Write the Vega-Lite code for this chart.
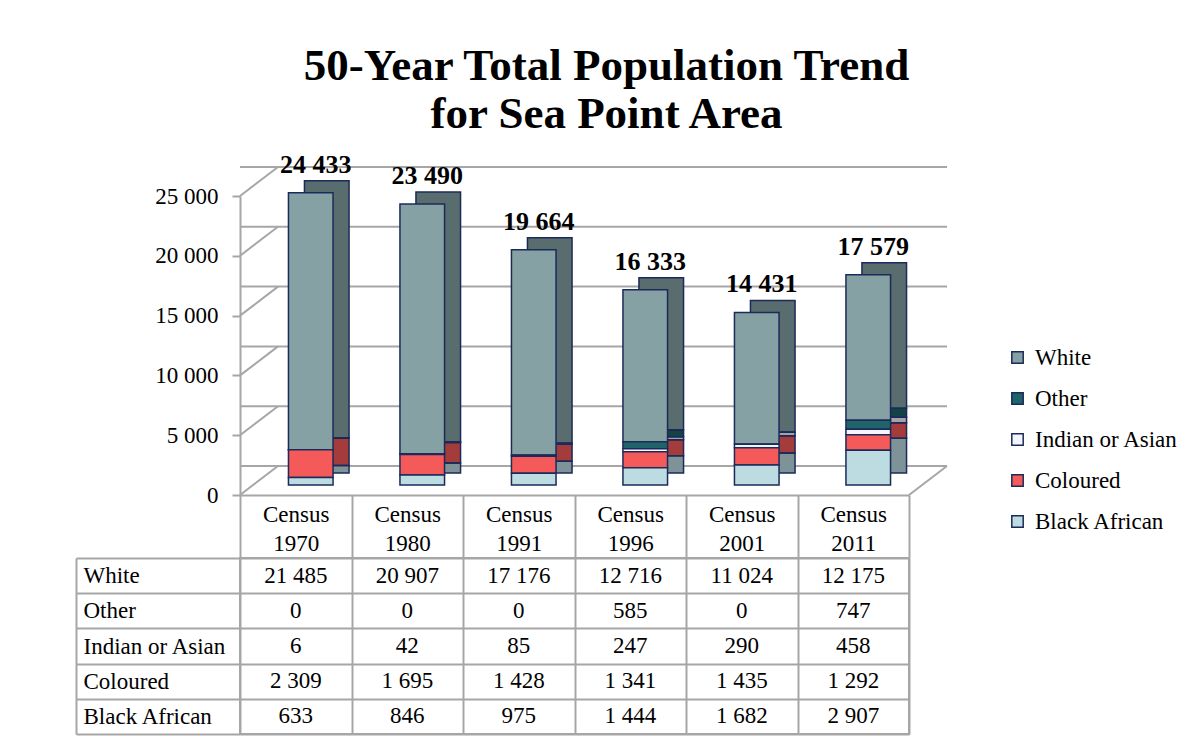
{
  "$schema": "https://vega.github.io/schema/vega-lite/v6.json",
  "background": "white",
  "padding": {"left": 74, "top": 43, "right": 5, "bottom": 5},
  "title": {
    "text": ["50-Year Total Population Trend", "for Sea Point Area"],
    "font": "Liberation Serif", "fontSize": 45, "fontWeight": "bold", "lineHeight": 48,
    "color": "black", "anchor": "middle", "offset": 15, "dx": -20
  },
  "config": {
    "locale": {"number": {"decimal": ".", "thousands": " ", "grouping": [3], "currency": ["", ""]}},
    "font": "Liberation Serif",
    "view": {"stroke": null}
  },
  "datasets": {
    "pop": [
      {"year": "1970", "group": "White", "value": 21485},
      {"year": "1970", "group": "Other", "value": 0},
      {"year": "1970", "group": "Indian or Asian", "value": 6},
      {"year": "1970", "group": "Coloured", "value": 2309},
      {"year": "1970", "group": "Black African", "value": 633},
      {"year": "1980", "group": "White", "value": 20907},
      {"year": "1980", "group": "Other", "value": 0},
      {"year": "1980", "group": "Indian or Asian", "value": 42},
      {"year": "1980", "group": "Coloured", "value": 1695},
      {"year": "1980", "group": "Black African", "value": 846},
      {"year": "1991", "group": "White", "value": 17176},
      {"year": "1991", "group": "Other", "value": 0},
      {"year": "1991", "group": "Indian or Asian", "value": 85},
      {"year": "1991", "group": "Coloured", "value": 1428},
      {"year": "1991", "group": "Black African", "value": 975},
      {"year": "1996", "group": "White", "value": 12716},
      {"year": "1996", "group": "Other", "value": 585},
      {"year": "1996", "group": "Indian or Asian", "value": 247},
      {"year": "1996", "group": "Coloured", "value": 1341},
      {"year": "1996", "group": "Black African", "value": 1444},
      {"year": "2001", "group": "White", "value": 11024},
      {"year": "2001", "group": "Other", "value": 0},
      {"year": "2001", "group": "Indian or Asian", "value": 290},
      {"year": "2001", "group": "Coloured", "value": 1435},
      {"year": "2001", "group": "Black African", "value": 1682},
      {"year": "2011", "group": "White", "value": 12175},
      {"year": "2011", "group": "Other", "value": 747},
      {"year": "2011", "group": "Indian or Asian", "value": 458},
      {"year": "2011", "group": "Coloured", "value": 1292},
      {"year": "2011", "group": "Black African", "value": 2907}
    ],
    "grid": [{"v": 0}, {"v": 5000}, {"v": 10000}, {"v": 15000}, {"v": 20000}, {"v": 25000}]
  },
  "bounds": "flush",
  "spacing": 73,
  "vconcat": [
    {
      "width": 669,
      "height": 299,
      "layer": [
        {
          "data": {"name": "grid"},
          "mark": {"type": "rule", "color": "#A6A6A6", "strokeWidth": 2, "xOffset": 38, "x2Offset": 38, "yOffset": -19},
          "encoding": {
            "y": {
              "field": "v", "type": "quantitative",
              "scale": {"domain": [0, 25000], "nice": false},
              "axis": {
                "values": [0, 5000, 10000, 15000, 20000, 25000], "format": ",d", "grid": false, "title": null,
                "domainColor": "#A6A6A6", "domainWidth": 2, "tickColor": "#A6A6A6", "tickWidth": 2, "tickSize": 8,
                "labelFont": "Liberation Serif", "labelFontSize": 23, "labelColor": "black", "labelPadding": 14,
                "offset": 10, "translate": 10.5
              }
            }
          }
        },
        {
          "data": {"name": "grid"},
          "mark": {"type": "rule", "color": "#A6A6A6", "strokeWidth": 2, "yOffset": 10, "y2Offset": -19, "x2Offset": 38},
          "encoding": {
            "x": {"datum": "1970", "type": "nominal", "bandPosition": 0},
            "x2": {"datum": "1970", "bandPosition": 0},
            "y": {"field": "v", "type": "quantitative"},
            "y2": {"field": "v"}
          }
        },
        {
          "data": {"name": "grid"},
          "transform": [{"filter": "datum.v == 0"}],
          "mark": {"type": "rule", "color": "#A6A6A6", "strokeWidth": 2, "yOffset": 10, "y2Offset": -19, "x2Offset": 38},
          "encoding": {
            "x": {"datum": "2011", "type": "nominal", "bandPosition": 1},
            "x2": {"datum": "2011", "bandPosition": 1},
            "y": {"field": "v", "type": "quantitative"},
            "y2": {"field": "v"}
          }
        },
        {
          "data": {"name": "pop"},
          "transform": [{"calculate": "indexof(['Black African','Coloured','Indian or Asian','Other','White'], datum.group)", "as": "ord"}],
          "mark": {"type": "bar", "width": {"band": 0.4}, "xOffset": 31, "yOffset": -12, "y2Offset": -12},
          "encoding": {
            "x": {
              "field": "year", "type": "nominal",
              "scale": {"domain": ["1970", "1980", "1991", "1996", "2001", "2011"], "paddingInner": 0, "paddingOuter": 0},
              "axis": {
                "orient": "bottom", "offset": 10, "title": null, "grid": false, "labelAngle": 0,
                "domainColor": "#A6A6A6", "domainWidth": 2,
                "tickBand": "extent", "tickSize": 63, "tickColor": "#A6A6A6", "tickWidth": 2,
                "labelExpr": "datum.value ? ['Census', datum.value] : ''",
                "labelAlign": "center",
                "labelFont": "Liberation Serif", "labelFontSize": 23, "labelColor": "black",
                "labelPadding": -55, "labelBaseline": "top", "labelLineHeight": 29
              }
            },
            "y": {"field": "value", "type": "quantitative", "stack": "zero"},
            "color": {
              "field": "group", "type": "nominal",
              "scale": {
                "domain": ["White", "Other", "Indian or Asian", "Coloured", "Black African"],
                "range": ["#85A1A4", "#1E6468", "#F4F4FC", "#F55A5A", "#BCDCE2"]
              },
              "legend": {
                "orient": "none", "legendX": 766, "legendY": 160, "title": null,
                "symbolType": "square", "symbolSize": 130, "symbolStrokeColor": "#1C2A5A", "symbolStrokeWidth": 1.5,
                "labelFont": "Liberation Serif", "labelFontSize": 23, "labelColor": "black",
                "rowPadding": 17, "labelOffset": 6
              }
            },
            "order": {"field": "ord", "type": "quantitative"}
          }
        },
        {
          "data": {"name": "pop"},
          "transform": [{"calculate": "indexof(['Black African','Coloured','Indian or Asian','Other','White'], datum.group)", "as": "ord"}],
          "mark": {"type": "bar", "width": {"band": 0.4}, "xOffset": 31, "yOffset": -12, "y2Offset": -12,
                   "fill": "black", "fillOpacity": 0.33, "stroke": "#1C2A5A", "strokeWidth": 1.5},
          "encoding": {
            "x": {"field": "year", "type": "nominal"},
            "y": {"field": "value", "type": "quantitative", "stack": "zero"},
            "detail": {"field": "group", "type": "nominal"},
            "order": {"field": "ord", "type": "quantitative"}
          }
        },
        {
          "data": {"name": "pop"},
          "transform": [{"calculate": "indexof(['Black African','Coloured','Indian or Asian','Other','White'], datum.group)", "as": "ord"}],
          "mark": {"type": "bar", "width": {"band": 0.4}, "xOffset": 15, "stroke": "#1C2A5A", "strokeWidth": 1.5, "opacity": 1},
          "encoding": {
            "x": {"field": "year", "type": "nominal"},
            "y": {"field": "value", "type": "quantitative", "stack": "zero"},
            "color": {"field": "group", "type": "nominal"},
            "order": {"field": "ord", "type": "quantitative"}
          }
        },
        {
          "data": {"name": "pop"},
          "mark": {"type": "text", "font": "Liberation Serif", "fontSize": 26, "fontWeight": "bold", "color": "black",
                   "dx": 20, "dy": -20, "baseline": "alphabetic"},
          "encoding": {
            "x": {"field": "year", "type": "nominal"},
            "y": {"aggregate": "sum", "field": "value", "type": "quantitative"},
            "text": {"aggregate": "sum", "field": "value", "type": "quantitative", "format": ",d"}
          }
        }
      ]
    },
    {
      "width": 669,
      "height": 176,
      "data": {"name": "pop"},
      "view": {"stroke": "#A6A6A6", "strokeWidth": 2},
      "mark": {"type": "text", "font": "Liberation Serif", "fontSize": 23, "color": "black", "baseline": "middle"},
      "encoding": {
        "x": {
          "field": "year", "type": "nominal",
          "scale": {"domain": ["1970", "1980", "1991", "1996", "2001", "2011"], "paddingInner": 0, "paddingOuter": 0},
          "axis": {"labels": false, "ticks": false, "domain": false, "grid": true, "tickBand": "extent",
                   "gridColor": "#A6A6A6", "gridWidth": 2, "title": null}
        },
        "y": {
          "field": "group", "type": "nominal",
          "sort": ["White", "Other", "Indian or Asian", "Coloured", "Black African"],
          "scale": {"paddingInner": 0, "paddingOuter": 0},
          "axis": {
            "title": null, "grid": true, "gridColor": "#A6A6A6", "gridWidth": 2, "tickBand": "extent",
            "offset": 164, "tickSize": -164, "tickColor": "#A6A6A6", "tickWidth": 2,
            "domainColor": "#A6A6A6", "domainWidth": 2,
            "labelAlign": "left", "labelPadding": 157, "labelBaseline": "middle",
            "labelFont": "Liberation Serif", "labelFontSize": 23, "labelColor": "black"
          }
        },
        "text": {"field": "value", "type": "quantitative", "format": ",d"}
      }
    }
  ]
}
